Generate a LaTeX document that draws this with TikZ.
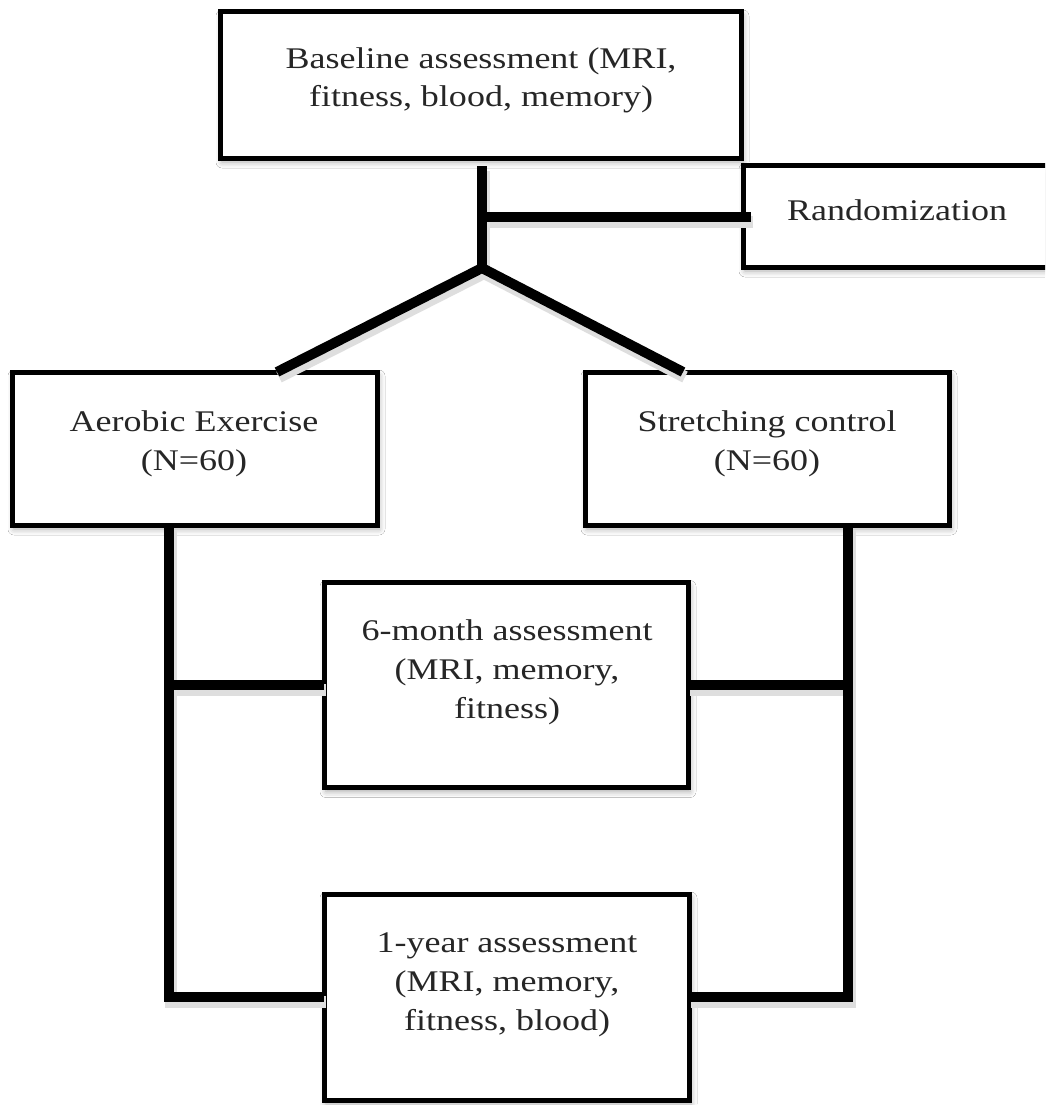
\documentclass[tikz,border=0pt]{standalone}
\usepackage{fontspec}
\setmainfont{Liberation Serif}[FakeStretch=1.2]
\usetikzlibrary{shadows.blur,calc}
\newcommand\myconnectors[1]{%
  \draw[#1] (rj) -- ($(rand.west)+(8,1)$);
  \draw[#1] ($(aer.north west)+(265,0)$) -- (j) -- ($(str.north west)+(98,0)$);
  \draw[#1] (top) -- (j);
  \draw[#1] (six.west) -- (six.west -| ll);
  \draw[#1] (six.east) -- (six.east -| rr);
  \draw[#1] (ll) |- (one.west);
  \draw[#1] (rr) |- (one.east);
}
\begin{document}
\begin{tikzpicture}[x=1pt,y=-1pt,
  box/.style={draw=black, line width=5pt, fill=white, inner sep=0pt, outer sep=0pt,
     blur shadow={shadow xshift=2pt, shadow yshift=-4pt, shadow blur radius=6pt, shadow opacity=35}},
  conn/.style={line width=10pt, draw=black, line join=miter},
  lsh/.style={line width=12pt, draw=black!13, line join=miter, transform canvas={shift={(2pt,-5pt)}}},
  lbl/.style={anchor=base, align=center, inner sep=0pt, text=black!85,
     font=\fontsize{30}{39}\selectfont}]
\clip (0,0) rectangle (1045,1105);
\fill[white] (0,0) rectangle (1045,1105);

% boxes
\node[box, minimum width=521pt, minimum height=146pt] (base) at (480.5,85) {};
\node[box, minimum width=337pt, minimum height=102pt] (rand) at (911.5,216) {};
\node[box, minimum width=365pt, minimum height=153pt] (aer) at (194.5,448.5) {};
\node[box, minimum width=364pt, minimum height=153pt] (str) at (767,448.5) {};
\node[box, minimum width=364pt, minimum height=205pt] (six) at (506,685) {};
\node[box, minimum width=365pt, minimum height=206pt] (one) at (506.5,997) {};

% connector points
\coordinate (top) at ($(base.south)+(1.5,8)$);
\coordinate (j) at (482,268);
\coordinate (rj) at (482,217);
\coordinate (ll) at ($(aer.south)+(-25.5,0)$);
\coordinate (rr) at ($(str.south)+(81,0)$);

% connectors: shadows first, then the lines
\myconnectors{lsh}
\myconnectors{conn}

% texts (anchor = baseline of last line)
\node[lbl] (base-t) at (481,107) {Baseline assessment (MRI,\\fitness, blood, memory)};
\node[lbl] (rand-t) at (897,220) {Randomization};
\node[lbl] (aer-t) at (194,470) {Aerobic Exercise\\(N=60)};
\node[lbl] (str-t) at (767,470) {Stretching control\\(N=60)};
\node[lbl] (six-t) at (507,718) {6-month assessment\\(MRI, memory,\\fitness)};
\node[lbl] (one-t) at (507,1030) {1-year assessment\\(MRI, memory,\\fitness, blood)};
\end{tikzpicture}
\end{document}
